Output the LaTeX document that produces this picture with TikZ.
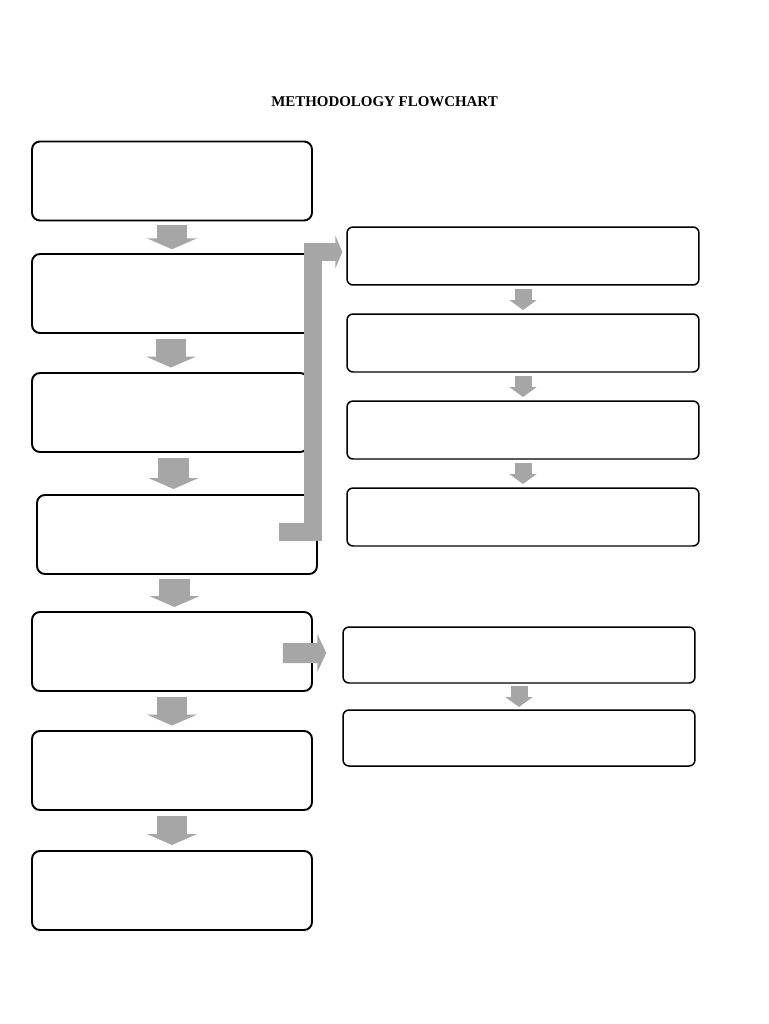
\documentclass[tikz,border=0pt]{standalone}
\usepackage{fontspec}
\setmainfont{Liberation Serif}
\usepackage{xcolor}
\usetikzlibrary{arrows.meta, positioning, calc}
\definecolor{arrowgray}{RGB}{166,166,166}
\tikzstyle{stage} = [rectangle, rounded corners=4.5pt, minimum width=5.6cm, minimum height=1.58cm, draw=black, line width=1.1pt]
\tikzstyle{substage} = [rectangle, rounded corners=3.4pt, minimum width=7.04cm, minimum height=1.16cm, draw=black, line width=0.85pt]
\tikzstyle{bigarrow} = [draw=arrowgray, line width=0.62cm, -{Triangle[length=0.22cm, width=1cm]}]
\tikzstyle{smallarrow} = [draw=arrowgray, line width=0.34cm, -{Triangle[length=0.2cm, width=0.54cm]}]
\tikzstyle{bararrow} = [draw=arrowgray, line width=0.36cm, line join=miter, -{Triangle[length=0.14cm, width=0.66cm]}]
\tikzstyle{sidearrow} = [draw=arrowgray, line width=0.4cm, -{Triangle[length=0.18cm, width=0.76cm]}]

\begin{document}
\begin{tikzpicture}[x=0.02cm, y=-0.02cm]
\useasboundingbox (0,0) rectangle (768,1024);
\node (title) at (384.5,102) {\fontsize{8.5pt}{10pt}\selectfont\bfseries METHODOLOGY FLOWCHART};

% main column
\node (l1) [stage] at (172,181) {};
\node (l2) [stage] at (172,293.5) {};
\node (l3) [stage, minimum width=5.52cm] at (170,412.5) {};
\node (l4) [stage] at (177,534.5) {};
\node (l5) [stage] at (172,651.5) {};
\node (l6) [stage] at (172,770.5) {};
\node (l7) [stage] at (172,890.5) {};

% right column
\node (r1) [substage] at (523,256) {};
\node (r2) [substage] at (523,343) {};
\node (r3) [substage] at (523,430) {};
\node (r4) [substage] at (523,517) {};
\node (r5) [substage, minimum height=1.12cm] at (519,655) {};
\node (r6) [substage, minimum height=1.12cm] at (519,738) {};

\foreach \a/\b/\h in {l1/l2/12, l2/l3/14.5, l3/l4/15.5, l4/l5/14, l5/l6/14.5, l6/l7/14.5}
  \draw [bigarrow] ($(\a.south)!0.5!(\b.north)$) ++(0,-\h) -- ++(0,{2*\h});
\foreach \a/\b in {r1/r2, r2/r3, r3/r4, r5/r6}
  \draw [smallarrow] ($(\a.south)!0.5!(\b.north)$) ++(0,-10.5) -- ++(0,21);

\draw [bararrow] ($(l4.east)+(-39,-3)$) -| ($(r1.west)+(-33,-4)$) -- ($(r1.west)+(-4,-4)$);
\draw [sidearrow] ($(l5.east)+(-30,1.5)$) -- ($(r5.west)+(-16,-2)$);
\end{tikzpicture}
\end{document}
